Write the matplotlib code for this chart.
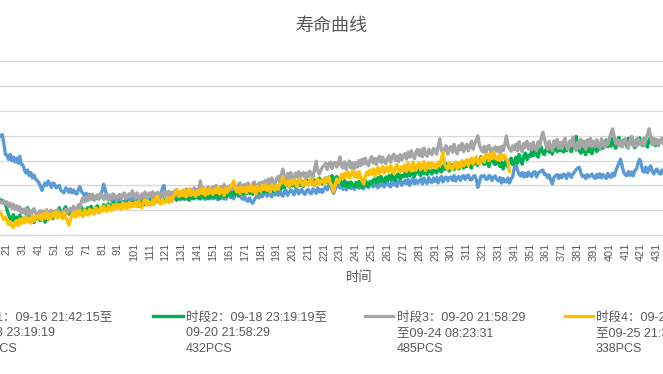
import matplotlib
matplotlib.use('Agg')
import matplotlib.pyplot as plt
from matplotlib.lines import Line2D

plt.rcParams['font.family'] = ['Liberation Sans', 'Noto Sans CJK SC']

title = '寿命曲线'
x_label = '时间'

legend_texts = [
    ['时段1：09-16 21:42:15至', '09-18 23:19:19', '466PCS'],
    ['时段2：09-18 23:19:19至', '09-20 21:58:29', '432PCS'],
    ['时段3：09-20 21:58:29', '至09-24 08:23:31', '485PCS'],
    ['时段4：09-24 08:23:31', '至09-25 21:30:12', '338PCS'],
]
colors = ['#5B9BD5', '#00B050', '#A5A5A5', '#FFC000']

period1 = [
    430, 420, 435, 415, 425, 410, 420, 405, 415, 400,
    410, 395, 405, 390, 400, 395, 398, 405, 370, 325,
    322, 305, 325, 300, 315, 295, 310, 290, 318, 285,
    283, 262, 250, 262, 240, 252, 230, 242, 225, 220,
    212, 198, 180, 198, 210, 200, 218, 206, 192, 210,
    206, 190, 195, 200, 180, 175, 170, 190, 185, 172,
    186, 170, 182, 170, 165, 184, 195, 175, 168, 158,
    168, 150, 164, 145, 158, 142, 156, 146, 158, 160,
    178, 205, 182, 158, 146, 150, 138, 142, 136, 130,
    142, 136, 140, 132, 128, 150, 134, 146, 132, 152,
    138, 130, 150, 124, 140, 146, 128, 144, 150, 134,
    146, 134, 152, 136, 148, 154, 140, 162, 188, 200,
    162, 144, 156, 140, 160, 146, 162, 144, 158, 146,
    160, 146, 164, 148, 144, 162, 152, 146, 166, 152,
    162, 146, 158, 166, 148, 144, 158, 164, 146, 160,
    146, 162, 150, 142, 160, 166, 146, 158, 144, 162,
    164, 150, 166, 146, 162, 170, 156, 160, 148, 144,
    154, 140, 136, 150, 134, 128, 142, 152, 162, 150,
    166, 154, 168, 174, 156, 172, 162, 154, 178, 162,
    174, 160, 178, 164, 156, 176, 180, 160, 172, 182,
    176, 162, 182, 186, 166, 178, 184, 168, 164, 180,
    184, 170, 166, 186, 178, 168, 190, 174, 184, 172,
    186, 194, 182, 198, 204, 186, 168, 184, 198, 204,
    190, 202, 184, 198, 182, 194, 204, 188, 200, 184,
    198, 204, 188, 210, 196, 186, 206, 212, 192, 204,
    210, 194, 214, 198, 190, 212, 198, 216, 194, 208,
    214, 198, 194, 220, 202, 214, 196, 216, 222, 200,
    212, 220, 206, 224, 200, 216, 230, 206, 222, 208,
    220, 226, 206, 230, 214, 208, 232, 216, 212, 230,
    216, 232, 210, 226, 236, 214, 230, 234, 218, 232,
    234, 220, 240, 218, 232, 236, 220, 234, 240, 224,
    236, 242, 224, 222, 236, 240, 226, 192, 214, 238,
    236, 240, 226, 224, 240, 236, 220, 234, 238, 224,
    218, 232, 210, 228, 216, 214, 230, 210, 226, 236,
    272, 285, 262, 246, 238, 252, 234, 249, 236, 254,
    241, 236, 252, 256, 234, 249, 254, 259, 262, 244,
    246, 231, 242, 221, 206, 232, 240, 244, 228, 242,
    231, 246, 242, 228, 249, 244, 232, 247, 254, 264,
    270, 273, 251, 236, 240, 228, 244, 234, 239, 246,
    234, 228, 244, 232, 247, 231, 244, 234, 228, 249,
    236, 232, 249, 238, 258, 274, 292, 306, 278, 252,
    244, 239, 256, 241, 254, 239, 259, 266, 288, 306,
    288, 258, 254, 274, 251, 269, 279, 256, 246, 259,
    266, 251, 246, 262, 248, 264, 244, 259, 266, 246,
    258, 252, 262, 248, 255, 260, 250, 258, 264, 252,
    256, 262, 250, 258, 265, 254, 260, 252, 258, 262,
    255, 260, 252, 258, 262, 256,
]

period2 = [
    165, 160, 158, 150, 155, 148, 152, 145, 150, 142,
    148, 140, 145, 138, 142, 140, 142, 138, 135, 125,
    102, 82, 66, 58, 82, 50, 72, 56, 80, 54,
    68, 50, 66, 110, 66, 56, 76, 50, 68, 74,
    64, 58, 82, 68, 52, 86, 62, 78, 90, 66,
    86, 98, 84, 110, 88, 80, 104, 114, 90, 84,
    102, 86, 110, 90, 82, 106, 92, 112, 86, 104,
    90, 110, 94, 116, 98, 90, 112, 118, 96, 108,
    106, 122, 104, 118, 126, 108, 122, 130, 110, 124,
    114, 130, 116, 134, 110, 126, 134, 120, 114, 132,
    120, 136, 124, 116, 140, 126, 120, 142, 128, 124,
    140, 126, 144, 128, 142, 150, 130, 144, 152, 134,
    136, 152, 140, 156, 136, 154, 160, 140, 156, 144,
    146, 160, 144, 162, 148, 140, 160, 164, 146, 162,
    150, 166, 146, 162, 170, 150, 164, 146, 166, 154,
    164, 150, 170, 154, 146, 166, 172, 154, 168, 156,
    170, 174, 156, 176, 164, 180, 160, 182, 176, 164,
    180, 166, 184, 168, 182, 164, 186, 172, 190, 170,
    184, 192, 172, 190, 174, 194, 178, 190, 176, 192,
    180, 196, 202, 186, 210, 190, 204, 214, 194, 210,
    198, 214, 194, 212, 220, 200, 216, 196, 214, 222,
    206, 220, 226, 204, 222, 208, 224, 230, 210, 206,
    222, 230, 210, 234, 218, 240, 210, 230, 236, 216,
    230, 208, 200, 220, 196, 212, 192, 214, 200, 196,
    212, 194, 216, 200, 190, 214, 220, 198, 194, 216,
    206, 222, 226, 210, 232, 216, 236, 220, 214, 234,
    220, 240, 224, 244, 228, 220, 242, 248, 226, 240,
    234, 250, 236, 254, 238, 260, 244, 236, 256, 264,
    246, 240, 262, 248, 268, 244, 260, 264, 246, 262,
    258, 250, 274, 260, 254, 280, 264, 288, 266, 258,
    268, 284, 264, 280, 290, 266, 282, 295, 270, 286,
    276, 300, 280, 270, 305, 286, 310, 280, 300, 316,
    294, 284, 310, 290, 276, 304, 314, 290, 284, 310,
    290, 276, 295, 266, 288, 304, 274, 296, 310, 284,
    294, 314, 290, 325, 300, 286, 320, 330, 304, 322,
    316, 340, 320, 350, 326, 314, 344, 355, 330, 324,
    346, 360, 334, 352, 326, 350, 365, 336, 356, 340,
    355, 335, 362, 340, 366, 346, 336, 360, 378, 398,
    364, 340, 330, 355, 338, 324, 360, 336, 352, 328,
    350, 362, 336, 370, 346, 376, 350, 372, 384, 356,
    380, 358, 390, 364, 350, 382, 394, 366, 358, 384,
    376, 355, 390, 370, 396, 364, 352, 384, 366, 392,
    380, 360, 390, 368, 355, 384, 396, 366, 382, 360,
    384, 368,
]

period3 = [
    170, 160, 165, 155, 158, 150, 155, 145, 150, 142,
    148, 140, 145, 138, 135, 140, 134, 128, 138, 125,
    134, 114, 128, 108, 124, 104, 118, 100, 114, 90,
    104, 88, 108, 84, 102, 80, 98, 106, 86, 80,
    92, 98, 76, 96, 82, 102, 74, 94, 100, 78,
    96, 80, 102, 84, 76, 98, 82, 104, 86, 98,
    108, 94, 116, 104, 96, 122, 108, 138, 150, 134,
    154, 138, 160, 144, 164, 140, 156, 162, 144, 166,
    158, 144, 164, 148, 140, 162, 146, 166, 158, 144,
    156, 164, 144, 162, 170, 146, 158, 166, 154, 178,
    164, 146, 170, 150, 144, 166, 154, 174, 148, 164,
    170, 154, 174, 150, 166, 172, 146, 170, 156, 176,
    170, 154, 176, 158, 172, 150, 180, 162, 156, 174,
    164, 180, 158, 186, 166, 160, 184, 168, 190, 172,
    184, 180, 218, 174, 192, 170, 186, 194, 174, 190,
    194, 176, 200, 182, 170, 196, 184, 204, 178, 194,
    182, 200, 184, 206, 188, 178, 204, 210, 186, 200,
    204, 188, 210, 192, 184, 208, 214, 194, 188, 210,
    196, 214, 194, 220, 200, 226, 208, 230, 214, 206,
    228, 236, 214, 245, 266, 230, 222, 248, 226, 252,
    230, 224, 250, 234, 256, 228, 246, 252, 232, 250,
    236, 258, 242, 234, 265, 298, 258, 246, 262, 274,
    280, 290, 264, 286, 294, 268, 288, 292, 274, 290,
    315, 278, 270, 295, 264, 284, 298, 270, 290, 266,
    292, 274, 300, 280, 306, 286, 310, 288, 280, 304,
    316, 290, 308, 284, 310, 318, 292, 314, 296, 288,
    310, 320, 294, 316, 326, 300, 318, 296, 324, 304,
    320, 328, 306, 334, 314, 340, 318, 308, 336, 345,
    320, 344, 316, 350, 326, 318, 346, 330, 324, 350,
    344, 326, 356, 388, 344, 330, 348, 360, 326, 350,
    356, 334, 366, 340, 328, 360, 344, 370, 336, 358,
    366, 340, 360, 378, 346, 368, 384, 400, 362, 346,
    336, 358, 330, 354, 362, 336, 350, 334, 356, 338,
    354, 330, 358, 340, 366, 400, 362, 346, 338, 360,
    344, 366, 340, 376, 350, 336, 370, 354, 378, 346,
    368, 344, 374, 350, 340, 376, 356, 390, 415, 388,
    362, 346, 378, 354, 340, 380, 358, 386, 350, 374,
    348, 376, 390, 356, 344, 380, 360, 395, 354, 340,
    374, 350, 386, 358, 378, 346, 384, 360, 390, 356,
    378, 356, 384, 360, 350, 388, 366, 354, 380, 364,
    390, 412, 428, 396, 368, 384, 360, 382, 356, 380,
    388, 364, 350, 384, 396, 360, 380, 356, 390, 368,
    364, 386, 360, 392, 404, 428, 396, 368, 390, 366,
    386, 360, 382, 390, 368, 385, 364, 380, 388, 366,
    378, 365, 385, 372, 360, 382, 370, 388, 375, 365,
    380, 372, 390, 368, 378, 385, 370, 382, 375, 392,
    380, 368, 385, 375, 390, 378, 365, 382, 388, 372,
    380, 392, 375, 385, 370, 388, 378, 395, 382, 375,
    388, 380, 392, 378, 385,
]

period4 = [
    120, 110, 115, 105, 112, 100, 108, 98, 104, 95,
    100, 92, 98, 90, 94, 88, 89, 75, 62, 70,
    60, 42, 54, 36, 30, 50, 58, 38, 64, 46,
    66, 50, 74, 54, 68, 48, 76, 56, 72, 78,
    66, 82, 60, 86, 68, 92, 64, 84, 70, 88,
    74, 94, 68, 90, 76, 66, 92, 72, 58, 40,
    62, 84, 92, 72, 96, 78, 100, 82, 74, 102,
    86, 80, 104, 88, 100, 84, 110, 94, 88, 112,
    96, 116, 100, 94, 120, 104, 98, 122, 106, 124,
    108, 122, 104, 130, 110, 126, 106, 132, 114, 128,
    116, 132, 114, 136, 120, 110, 134, 142, 120, 138,
    126, 120, 142, 124, 152, 156, 132, 124, 144, 128,
    134, 150, 130, 152, 136, 156, 168, 184, 166, 156,
    176, 160, 182, 154, 174, 186, 160, 178, 164, 156,
    178, 164, 184, 168, 190, 160, 182, 166, 186, 172,
    164, 184, 172, 192, 166, 186, 176, 160, 190, 172,
    184, 192, 204, 218, 188, 174, 190, 168, 192, 176,
    190, 170, 194, 178, 200, 174, 192, 166, 196, 182,
    176, 200, 184, 204, 180, 196, 174, 202, 188, 180,
    200, 184, 204, 208, 234, 214, 202, 216, 196, 218,
    204, 224, 208, 194, 218, 228, 206, 200, 222, 208,
    200, 222, 228, 206, 198, 218, 226, 204, 218, 224,
    208, 228, 214, 234, 206, 196, 175, 202, 226, 212,
    224, 244, 228, 250, 234, 254, 230, 246, 258, 236,
    252, 230, 256, 236, 220, 206, 236, 254, 242, 262,
    246, 266, 240, 262, 272, 246, 266, 276, 250, 268,
    274, 254, 280, 258, 248, 272, 284, 260, 254, 276,
    260, 282, 256, 290, 266, 258, 294, 270, 262, 284,
    290, 264, 282, 296, 260, 284, 292, 268, 290, 274,
    286, 270, 294, 280, 308, 334, 286, 274, 266, 290,
    270, 264, 286, 294, 268, 290, 274, 300, 278, 294,
    304, 280, 300, 310, 286, 306, 316, 290, 284, 310,
    314, 294, 322, 328, 300, 324, 308, 334, 314, 304,
    318, 300, 324, 308, 322, 306, 298, 255,
]

series = [period1, period2, period3, period4]

W, H = 663, 374
DPI = 100
fig = plt.figure(figsize=(W / DPI, H / DPI), dpi=DPI)
fig.patch.set_facecolor('white')

n_cat = max(len(s) for s in series)
ax_left, ax_right = -25.5, 743.4
ax_top, ax_bottom = 61.5, 235.0
ax = fig.add_axes([ax_left / W, 1 - ax_bottom / H,
                   (ax_right - ax_left) / W, (ax_bottom - ax_top) / H])

for s, c in zip(series, colors):
    ax.plot(range(1, len(s) + 1), s, color=c, lw=2.4,
            solid_joinstyle='round', solid_capstyle='round')

ax.set_xlim(0.5, n_cat + 0.5)
ax.set_ylim(0, 700)
ax.set_yticks(range(0, 701, 100))
ax.set_yticklabels([])
ax.yaxis.grid(True, color='#D9D9D9', lw=1.0)
ax.set_axisbelow(True)
ticks = list(range(1, n_cat + 1, 10))
ax.set_xticks(ticks)
ax.set_xticklabels([str(t) for t in ticks], rotation=90, fontsize=7.8,
                   color='#595959')
ax.tick_params(axis='both', length=0)
ax.tick_params(axis='x', pad=5.5)
for side in ['left', 'right', 'top']:
    ax.spines[side].set_visible(False)
ax.spines['bottom'].set_color('#D9D9D9')
ax.spines['bottom'].set_linewidth(1.0)

fig.text(331.5 / W, 1 - 26 / H, title, ha='center', va='center',
         fontsize=13, color='#595959')
fig.text(359 / W, 1 - 278 / H, x_label, ha='center', va='center',
         fontsize=9.5, color='#595959')

line_x = [(-63, -33), (153, 183), (365, 393), (565, 593)]
text_x = [-29, 186, 397, 596]
marker_y = 315.7
baselines = [320.5, 336.2, 351.5]
for (x1, x2), tx, lines, c in zip(line_x, text_x, legend_texts, colors):
    fig.add_artist(Line2D([x1 / W, x2 / W], [1 - marker_y / H] * 2,
                          transform=fig.transFigure, color=c, lw=2.4))
    for by, txt in zip(baselines, lines):
        fig.text(tx / W, 1 - by / H, txt, ha='left', va='baseline',
                 fontsize=9, color='#595959')

fig.savefig('out.png', dpi=DPI, facecolor='white')
